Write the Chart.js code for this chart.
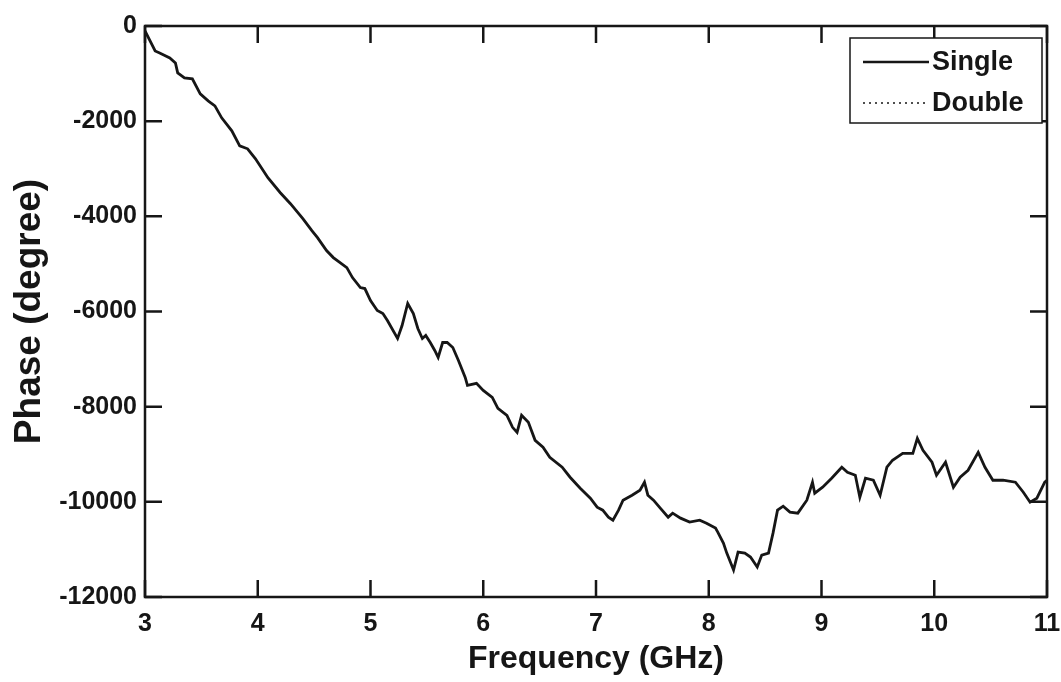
<!DOCTYPE html>
<html>
<head>
<meta charset="utf-8">
<script src="https://cdn.jsdelivr.net/npm/chart.js@4.4.1/dist/chart.umd.min.js"></script>
<style>
  html, body { margin: 0; padding: 0; background: #fff; }
  #wrap { width: 1061px; height: 682px; position: relative; }
</style>
</head>
<body>
<div id="wrap"><canvas id="chart"></canvas></div>
<script>
// Phase vs frequency
const freq = [3.00, 3.09, 3.13, 3.22, 3.27, 3.29, 3.35, 3.42, 3.49, 3.56, 3.62, 3.68, 3.77, 3.84, 3.91, 3.98,
    4.09, 4.20, 4.29, 4.40, 4.48, 4.53, 4.61, 4.67, 4.73, 4.79, 4.84, 4.91, 4.95, 5.00, 5.06, 5.11, 5.15,
    5.24, 5.28, 5.33, 5.38, 5.42, 5.46, 5.49, 5.53, 5.57, 5.60, 5.64, 5.68, 5.73, 5.78, 5.84, 5.86, 5.94,
    6.00, 6.08, 6.13, 6.21, 6.26, 6.30, 6.34, 6.40, 6.46, 6.53, 6.59, 6.70, 6.77, 6.86, 6.95, 7.01, 7.06,
    7.11, 7.15, 7.20, 7.24, 7.32, 7.39, 7.43, 7.46, 7.51, 7.57, 7.64, 7.68, 7.75, 7.83, 7.92, 7.98, 8.06,
    8.08, 8.13, 8.16, 8.22, 8.26, 8.32, 8.37, 8.43, 8.47, 8.53, 8.57, 8.61, 8.66, 8.72, 8.79, 8.87, 8.92,
    8.94, 9.01, 9.09, 9.18, 9.23, 9.30, 9.34, 9.39, 9.46, 9.52, 9.58, 9.63, 9.72, 9.81, 9.85, 9.90, 9.98,
    10.02, 10.10, 10.17, 10.23, 10.30, 10.39, 10.45, 10.52, 10.61, 10.72, 10.79, 10.85, 10.91, 10.98, 11.00];
const phaseSingle = [-100, -525, -566, -671, -776, -986, -1091, -1112, -1427, -1574, -1678, -1930, -2203, -2518, -2581, -2790,
    -3189, -3504, -3734, -4049, -4301, -4448, -4720, -4867, -4972, -5077, -5287, -5497, -5518, -5770, -5979, -6042, -6189,
    -6567, -6294, -5832, -6042, -6357, -6567, -6504, -6651, -6819, -6965, -6651, -6651, -6756, -7028, -7385, -7553, -7511,
    -7658, -7805, -8035, -8182, -8434, -8539, -8182, -8329, -8707, -8854, -9063, -9273, -9483, -9714, -9924, -10112, -10175,
    -10322, -10385, -10175, -9966, -9861, -9756, -9588, -9861, -9966, -10133, -10322, -10238, -10343, -10427, -10385, -10448, -10553,
    -10637, -10868, -11077, -11434, -11056, -11077, -11161, -11371, -11119, -11077, -10658, -10175, -10091, -10217, -10238, -9966, -9588,
    -9819, -9693, -9504, -9273, -9378, -9441, -9903, -9504, -9546, -9861, -9273, -9126, -8980, -8980, -8665, -8917, -9168,
    -9441, -9168, -9693, -9483, -9336, -8959, -9273, -9546, -9546, -9588, -9798, -10007, -9924, -9588, -9550];
const phaseDouble = []; // not visible in the figure, only in the legend
const xTicks = [3, 4, 5, 6, 7, 8, 9, 10, 11];
const yTicks = [0, -2000, -4000, -6000, -8000, -10000, -12000];

const INK = "#161616";
const FONT = "'Liberation Sans', Arial, sans-serif";

// frame + inward ticks on all four sides
const framePlugin = {
    id: "frame",
    afterDraw(chart) {
        const { ctx, chartArea: a, scales: { x, y } } = chart;
        ctx.save();
        ctx.strokeStyle = INK;
        ctx.lineWidth = 2.5;
        ctx.strokeRect(a.left, a.top, a.right - a.left, a.bottom - a.top);
        const len = 17;
        ctx.beginPath();
        xTicks.forEach(v => {
            const px = x.getPixelForValue(v);
            ctx.moveTo(px, a.bottom); ctx.lineTo(px, a.bottom - len);
            ctx.moveTo(px, a.top); ctx.lineTo(px, a.top + len);
        });
        yTicks.forEach(v => {
            const py = y.getPixelForValue(v);
            ctx.moveTo(a.left, py); ctx.lineTo(a.left + len, py);
            ctx.moveTo(a.right, py); ctx.lineTo(a.right - len, py);
        });
        ctx.stroke();
        ctx.restore();
    }
};

// boxed legend in the upper right corner
const legendPlugin = {
    id: "boxLegend",
    afterDraw(chart) {
        const { ctx } = chart;
        ctx.save();
        ctx.strokeStyle = INK;
        ctx.lineWidth = 1.5;
        ctx.fillStyle = "#fff";
        ctx.fillRect(850, 38, 192, 85);
        ctx.strokeRect(850, 38, 192, 85);
        ctx.font = `bold 27px ${FONT}`;
        ctx.textBaseline = "middle";
        chart.data.datasets.forEach((ds, i) => {
            const yy = 62 + i * 41;
            ctx.beginPath();
            ctx.setLineDash(ds.borderDash || []);
            ctx.lineWidth = ds.borderDash ? 1.5 : 2.5;
            ctx.moveTo(863, yy); ctx.lineTo(929, yy);
            ctx.stroke();
            ctx.setLineDash([]);
            ctx.fillStyle = INK;
            ctx.fillText(ds.label, 932, yy + 1);
        });
        ctx.restore();
    }
};

new Chart(document.getElementById("chart"), {
    type: "line",
    data: {
        datasets: [
            { label: "Single", data: freq.map((f, i) => ({ x: f, y: phaseSingle[i] })),
              borderColor: INK, borderWidth: 2.8, pointRadius: 0, tension: 0 },
            { label: "Double", data: phaseDouble, borderColor: INK, borderWidth: 1.5,
              borderDash: [2, 4], pointRadius: 0 }
        ]
    },
    options: {
        responsive: true, maintainAspectRatio: false, animation: false,
        layout: { padding: { left: 0, top: 26, right: 14, bottom: 0 } },
        plugins: { legend: { display: false }, tooltip: { enabled: false } },
        scales: {
            x: {
                type: "linear", min: 3, max: 11,
                grid: { display: false, drawTicks: false }, border: { display: false },
                afterBuildTicks: s => { s.ticks = xTicks.map(v => ({ value: v })); },
                afterFit: s => { s.height = 85; s.paddingLeft = 0; s.paddingRight = 0; },
                ticks: { color: INK, padding: 12, font: { family: FONT, size: 25, weight: "bold" } },
                title: { display: true, text: "Frequency (GHz)", color: INK, padding: { top: 0, bottom: 4 },
                    font: { family: FONT, size: 32, weight: "bold" } }
            },
            y: {
                min: -12000, max: 0,
                grid: { display: false, drawTicks: false }, border: { display: false },
                afterBuildTicks: s => { s.ticks = yTicks.map(v => ({ value: v })); },
                afterFit: s => { s.width = 145; s.paddingTop = 0; s.paddingBottom = 0; },
                ticks: { color: INK, padding: 8, callback: v => String(v),
                    font: { family: FONT, size: 25, weight: "bold" } },
                title: { display: true, text: "Phase (degree)", color: INK, padding: { top: 8, bottom: 0 },
                    font: { family: FONT, size: 37, weight: "bold" } }
            }
        }
    },
    plugins: [framePlugin, legendPlugin]
});
</script>
</body>
</html>
